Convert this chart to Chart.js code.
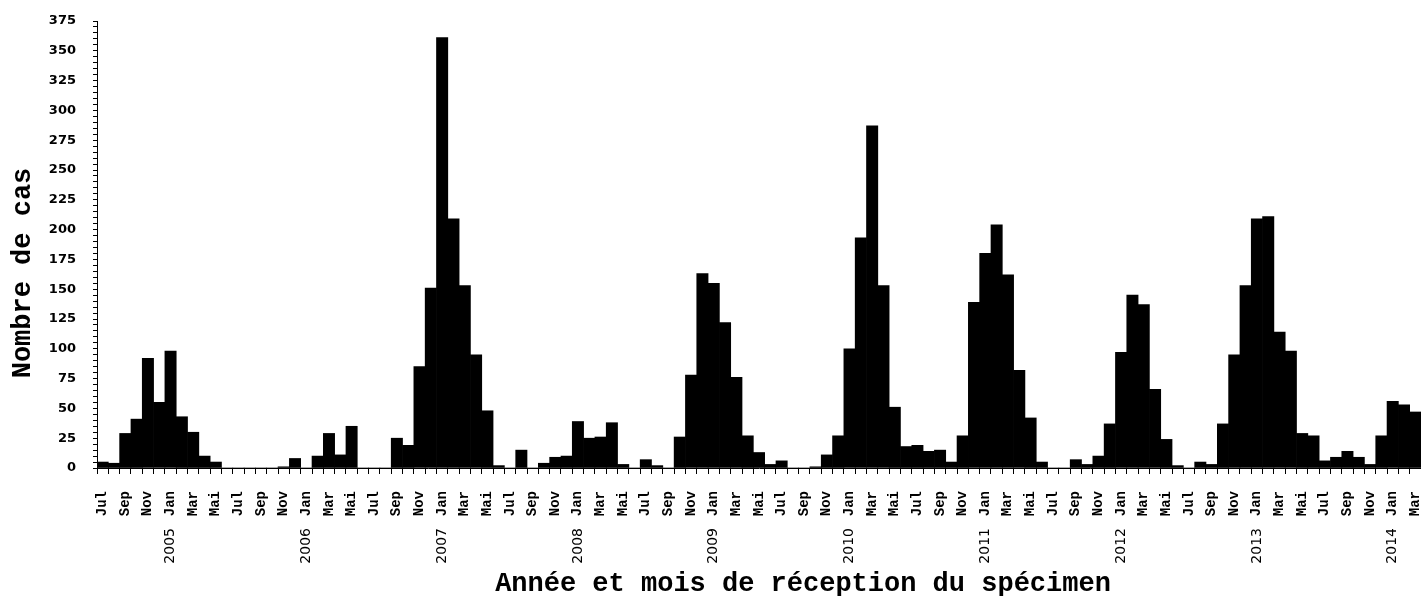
<!DOCTYPE html>
<html>
<head>
<meta charset="utf-8">
<script src="https://cdn.jsdelivr.net/npm/chart.js@4.4.1/dist/chart.umd.min.js"></script>
<style>
  html, body { margin: 0; padding: 0; background: #fff; }
  canvas { display: block; }
</style>
</head>
<body>
<canvas id="casChart" width="1421" height="596"></canvas>
<script>
// mois de réception, de juillet 2004 à mars 2014
const moisNoms = ['Jan', 'Fév', 'Mar', 'Avr', 'Mai', 'Jun', 'Jul', 'Aoû', 'Sep', 'Oct', 'Nov', 'Déc'];
const premierMois = { annee: 2004, mois: 6 };
const nbMois = 117;

// nombre de cas par mois
const cas2004 = [5, 4, 29, 41, 92, 55];                               // jul-déc
const cas2005 = [98, 43, 30, 10, 5, 0, 0, 0, 0, 0, 1, 8];
const cas2006 = [0, 10, 29, 11, 35, 0, 0, 0, 25, 19, 85, 151];
const cas2007 = [361, 209, 153, 95, 48, 2, 0, 15, 0, 4, 9, 10];
const cas2008 = [39, 25, 26, 38, 3, 0, 7, 2, 0, 26, 78, 163];
const cas2009 = [155, 122, 76, 27, 13, 3, 6, 0, 0, 1, 11, 27];
const cas2010 = [100, 193, 287, 153, 51, 18, 19, 14, 15, 5, 27, 139];
const cas2011 = [180, 204, 162, 82, 42, 5, 0, 0, 7, 3, 10, 37];
const cas2012 = [97, 145, 137, 66, 24, 2, 0, 5, 3, 37, 95, 153];
const cas2013 = [209, 211, 114, 98, 29, 27, 6, 9, 14, 9, 3, 27];
const cas2014 = [56, 53, 47];                                         // jan-mar

const yTicksMax = 375;
const yTickPas = 5;
const yLabelPas = 25;

const titreX = 'Année et mois de réception du spécimen';
const titreY = 'Nombre de cas';

const cas = [].concat(cas2004, cas2005, cas2006, cas2007, cas2008, cas2009,
    cas2010, cas2011, cas2012, cas2013, cas2014);

const moisLabels = [];
const anneeLabels = [];
for (let i = 0; i < nbMois; i++) {
    const m = (premierMois.mois + i) % 12;
    const a = premierMois.annee + Math.floor((premierMois.mois + i) / 12);
    moisLabels.push(moisNoms[m]);
    anneeLabels.push(m === 0 ? String(a) : '');
}

const police = 'Liberation Mono, Courier New, monospace';

// titres des axes, placés comme dans la figure d'origine
const titresPlugin = {
    id: 'titres',
    afterDraw(chart) {
        const ctx = chart.ctx;
        ctx.save();
        ctx.fillStyle = '#000';
        ctx.font = 'bold 27px ' + police;
        ctx.textAlign = 'center';
        ctx.textBaseline = 'middle';
        ctx.fillText(titreX, 803, 584);
        ctx.translate(23, 273);
        ctx.rotate(-Math.PI / 2);
        ctx.fillText(titreY, 0, 0);
        ctx.restore();
    }
};

const sansPadding = h => s => {
    if (h.width) s.width = h.width;
    if (h.height) s.height = h.height;
    s.paddingLeft = 0;
    s.paddingRight = 0;
    s.paddingTop = 0;
    s.paddingBottom = 0;
};

new Chart(document.getElementById('casChart'), {
    type: 'bar',
    data: {
        labels: moisLabels,
        datasets: [{
            data: cas,
            backgroundColor: '#000',
            borderWidth: 0,
            barPercentage: 1,
            categoryPercentage: 1,
            xAxisID: 'x',
            yAxisID: 'y'
        }]
    },
    plugins: [titresPlugin],
    options: {
        responsive: false,
        animation: false,
        devicePixelRatio: 1,
        layout: { padding: { top: 21, left: 0, right: 0, bottom: 0 } },
        plugins: { legend: { display: false }, tooltip: { enabled: false } },
        scales: {
            x: {
                type: 'category',
                offset: true,
                grid: { offset: true, drawOnChartArea: false, tickLength: 6, color: '#000' },
                border: { color: '#000', width: 1 },
                ticks: {
                    autoSkip: false,
                    minRotation: 90,
                    maxRotation: 90,
                    padding: 17,
                    color: '#000',
                    font: { family: police, weight: 'bold', size: 14 },
                    callback: (v, i) => (i % 2 === 0 ? moisLabels[i] : '')
                },
                afterFit: sansPadding({ height: 50 })
            },
            x2: {
                type: 'category',
                labels: anneeLabels,
                position: 'bottom',
                offset: true,
                grid: { display: false, drawTicks: false },
                border: { display: false },
                ticks: {
                    autoSkip: false,
                    minRotation: 90,
                    maxRotation: 90,
                    padding: 10,
                    color: '#000',
                    font: { family: 'DejaVu Sans', size: 14 }
                },
                afterFit: sansPadding({ height: 78 })
            },
            y: {
                min: 0,
                max: yTicksMax,
                grid: { drawOnChartArea: false, tickLength: 4, color: '#000' },
                border: { color: '#000', width: 1 },
                ticks: {
                    stepSize: yTickPas,
                    autoSkip: false,
                    padding: 17,
                    color: '#000',
                    font: { family: 'DejaVu Sans', weight: 'bold', size: 13 },
                    callback: v => (v % yLabelPas === 0 ? v : '')
                },
                afterFit: sansPadding({ width: 97 })
            }
        }
    }
});
</script>
</body>
</html>
